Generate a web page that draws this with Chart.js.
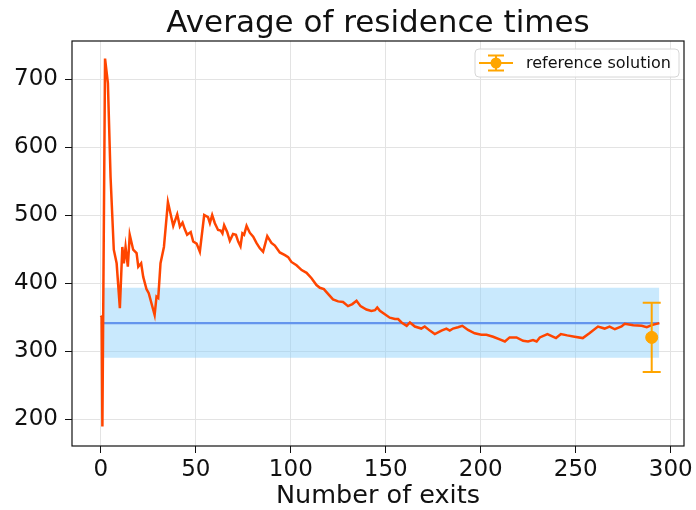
<!DOCTYPE html>
<html>
<head>
<meta charset="utf-8">
<script src="https://cdn.jsdelivr.net/npm/chart.js@4.4.1/dist/chart.umd.min.js"></script>
<style>
  html, body { margin: 0; padding: 0; background: #fff; }
</style>
</head>
<body>
<canvas id="chart" width="696" height="510"></canvas>
<script>
// running average of residence times
const exits = [0, 0.4, 0.8, 2.2, 3.7, 5.1, 6.8, 8.3, 10.0, 11.3, 12.1, 13.0, 14.2, 15.2, 17.0, 18.8, 19.7, 21.2, 22.3, 24.0, 25.2, 28.3, 29.3, 30.2, 31.4, 33.2, 35.3, 38.1, 40.2, 41.6, 43.0, 44.2, 45.4, 47.3, 48.6, 50.4, 52.1, 54.4, 56.4, 57.4, 58.6, 60.0, 61.7, 63.1, 64.0, 64.9, 66.5, 67.9, 69.6, 71.1, 72.3, 73.5, 74.5, 75.4, 76.7, 78.4, 80.2, 81.9, 83.7, 85.4, 87.6, 89.8, 91.6, 94.2, 96.9, 98.6, 100.3, 103.0, 105.7, 108.3, 110.9, 113.5, 115.3, 117.4, 119.6, 122.2, 124.9, 127.5, 130.1, 132.4, 134.6, 136.7, 139.8, 142.4, 144.3, 145.5, 146.9, 149.5, 152.1, 154.8, 156.5, 158.3, 161.0, 162.7, 165.3, 168.7, 170.5, 173.2, 175.8, 179.3, 181.9, 183.7, 185.4, 188.0, 190.3, 193.3, 196.8, 200.3, 203.0, 206.5, 210.0, 212.7, 215.2, 218.8, 222.3, 224.9, 227.5, 229.4, 231.1, 235.1, 239.6, 242.2, 245.5, 249.4, 253.7, 257.2, 261.7, 265.2, 267.8, 270.6, 274.1, 275.8, 280.3, 284.7, 287.4, 290.0, 294.0];
const avgTime = [352, 350, 189, 730, 694, 556, 449, 429, 363, 453, 429, 453, 424, 471, 449, 444, 424, 429, 409, 391, 385, 353, 380, 378, 429, 453, 519, 484, 501, 483, 489, 479, 471, 475, 461, 458, 446, 500, 497, 488, 500, 488, 478, 477, 473, 485, 475, 462, 472, 471, 461, 454, 473, 471, 484, 474, 468, 459, 451, 446, 469, 459, 455, 445, 441, 438, 431, 426, 419, 415, 407, 397, 393, 391, 384, 376, 373, 372, 366, 369, 374, 366, 361, 359, 360, 364, 359, 354, 349, 347, 347, 342, 337, 342, 336, 333, 336, 330, 325, 330, 333, 330, 333, 335, 337, 331, 326, 324, 324, 321, 317, 314, 320, 320, 315, 314, 316, 314, 320, 325, 319, 325, 323, 321, 319, 326, 336, 333, 336, 332, 336, 340, 338, 337, 335, 338, 341];

// mean line and +/- band
const meanX = [0, 294];
const meanY = [341, 341];
const bandX = [1, 294];
const bandLow = [290, 290];
const bandHigh = [393, 393];

// reference solution with error bar
const refX = [290];
const refY = [320];
const refErr = [51];

const xTicks = [0, 50, 100, 150, 200, 250, 300];
const yTicks = [200, 300, 400, 500, 600, 700];

const pts = (xs, ys) => xs.map((x, i) => ({ x: x, y: ys[i] }));

Chart.defaults.font.family = "'DejaVu Sans', sans-serif";
Chart.defaults.color = "#111";

const ORANGE = "#ffa500";

// error bar + frame + title + legend drawn on the canvas
const extras = {
  id: "extras",
  afterDatasetsDraw(chart) {
    const { ctx, scales } = chart;
    ctx.save();
    ctx.strokeStyle = ORANGE;
    ctx.lineWidth = 2;
    refX.forEach((x, i) => {
      const px = scales.x.getPixelForValue(x);
      const top = scales.y.getPixelForValue(refY[i] + refErr[i]);
      const bot = scales.y.getPixelForValue(refY[i] - refErr[i]);
      ctx.beginPath();
      ctx.moveTo(px, top); ctx.lineTo(px, bot);
      ctx.moveTo(px - 9, top); ctx.lineTo(px + 9, top);
      ctx.moveTo(px - 9, bot); ctx.lineTo(px + 9, bot);
      ctx.stroke();
    });
    ctx.restore();
  },
  afterDraw(chart) {
    const { ctx, chartArea: a } = chart;
    ctx.save();
    // frame
    ctx.strokeStyle = "#111";
    ctx.lineWidth = 1.2;
    ctx.strokeRect(a.left, a.top, a.right - a.left, a.bottom - a.top);

    // title
    ctx.fillStyle = "#111";
    ctx.font = "31px 'DejaVu Sans'";
    ctx.textAlign = "center";
    ctx.textBaseline = "alphabetic";
    ctx.fillText("Average of residence times", (a.left + a.right) / 2, 32);

    // legend
    const bw = 204, bh = 28;
    const bx = a.right - 5 - bw, by = a.top + 8;
    ctx.beginPath();
    ctx.roundRect(bx, by, bw, bh, 4);
    ctx.fillStyle = "rgba(255,255,255,0.85)";
    ctx.fill();
    ctx.strokeStyle = "#d6d6d6";
    ctx.lineWidth = 1;
    ctx.stroke();
    const cy = by + bh / 2, cx = bx + 21;
    ctx.strokeStyle = ORANGE;
    ctx.lineWidth = 2;
    ctx.beginPath();
    ctx.moveTo(bx + 4, cy); ctx.lineTo(bx + 38, cy);
    ctx.moveTo(cx, cy - 7.5); ctx.lineTo(cx, cy + 7.5);
    ctx.moveTo(cx - 8, cy - 7.5); ctx.lineTo(cx + 8, cy - 7.5);
    ctx.moveTo(cx - 8, cy + 7.5); ctx.lineTo(cx + 8, cy + 7.5);
    ctx.stroke();
    ctx.beginPath();
    ctx.arc(cx, cy, 5.5, 0, Math.PI * 2);
    ctx.fillStyle = ORANGE;
    ctx.fill();
    ctx.fillStyle = "#111";
    ctx.font = "16px 'DejaVu Sans'";
    ctx.textAlign = "left";
    ctx.textBaseline = "middle";
    ctx.fillText("reference solution", bx + 51, cy + 1);
    ctx.restore();
  }
};

new Chart(document.getElementById("chart"), {
  type: "line",
  data: {
    datasets: [
      {
        label: "average",
        data: pts(exits, avgTime),
        borderColor: "#ff4500",
        borderWidth: 2.5,
        pointRadius: 0,
        order: 2
      },
      {
        label: "mean",
        data: pts(meanX, meanY),
        borderColor: "#6495ed",
        borderWidth: 2.2,
        pointRadius: 0,
        order: 3
      },
      {
        label: "band low",
        data: pts(bandX, bandLow),
        borderWidth: 0,
        pointRadius: 0,
        fill: false,
        order: 5
      },
      {
        label: "band high",
        data: pts(bandX, bandHigh),
        borderWidth: 0,
        pointRadius: 0,
        backgroundColor: "rgba(135, 206, 250, 0.45)",
        fill: "-1",
        order: 4
      },
      {
        label: "reference solution",
        type: "scatter",
        data: pts(refX, refY),
        pointRadius: 6,
        pointBackgroundColor: ORANGE,
        pointBorderColor: ORANGE,
        order: 1
      }
    ]
  },
  options: {
    responsive: false,
    animation: false,
    devicePixelRatio: 1,
    layout: { padding: { left: 0, right: 12, top: 41, bottom: 0 } },
    plugins: {
      legend: { display: false },
      title: { display: false },
      tooltip: { enabled: false }
    },
    scales: {
      x: {
        type: "linear",
        min: -15.2,
        max: 307,
        afterBuildTicks: (s) => { s.ticks = xTicks.map(v => ({ value: v })); },
        afterFit: (s) => { s.height = 64; },
        grid: { color: "#e3e3e3", tickColor: "#111", tickLength: 7 },
        border: { display: false },
        ticks: { font: { size: 23 }, padding: 3, maxRotation: 0, autoSkip: false },
        title: {
          display: true,
          text: "Number of exits",
          font: { size: 25.5, lineHeight: 1.05 },
          padding: { top: 0, bottom: 0 }
        }
      },
      y: {
        type: "linear",
        min: 160.3,
        max: 755.9,
        afterBuildTicks: (s) => { s.ticks = yTicks.map(v => ({ value: v })); },
        afterFit: (s) => { s.width = 72; },
        grid: { color: "#e3e3e3", tickColor: "#111", tickLength: 7 },
        border: { display: false },
        ticks: { font: { size: 23 }, padding: 7 }
      }
    }
  },
  plugins: [extras]
});
</script>
</body>
</html>
